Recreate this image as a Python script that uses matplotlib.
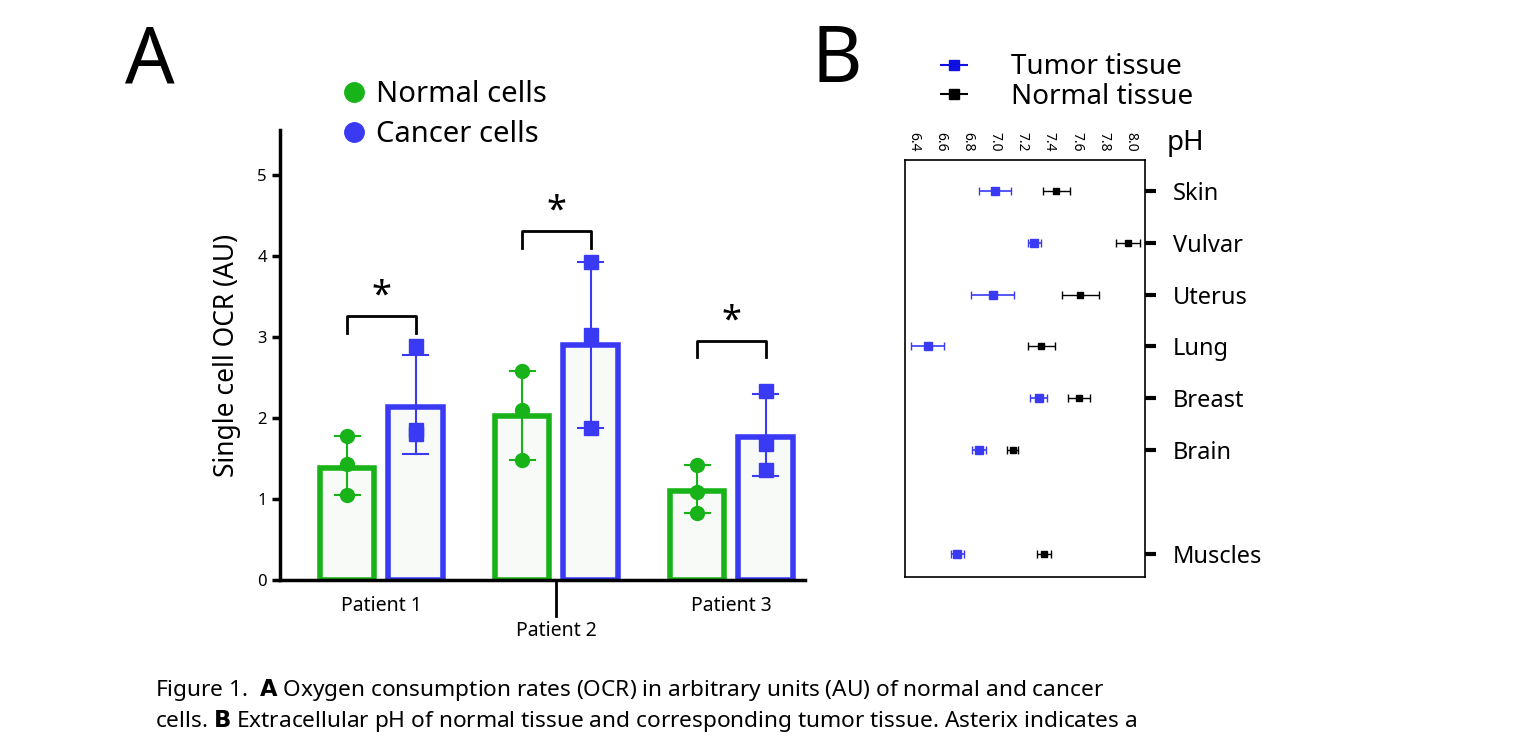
import matplotlib
matplotlib.use("Agg")
import matplotlib.pyplot as plt
import numpy as np

plt.rcParams['font.family'] = ['Noto Sans', 'DejaVu Sans']

patients = ["Patient 1", "Patient 2", "Patient 3"]
normal_mean = [1.38, 2.02, 1.10]
cancer_mean = [2.13, 2.90, 1.76]
normal_pts = [[1.77, 1.43, 1.05], [2.58, 2.10, 1.48], [1.42, 1.08, 0.83]]
cancer_pts = [[2.88, 1.80, 1.85], [3.92, 3.02, 1.88], [2.33, 1.68, 1.36]]
normal_err = [[1.05, 1.77], [1.48, 2.58], [0.83, 1.42]]
cancer_err = [[1.55, 2.78], [1.88, 3.92], [1.28, 2.30]]

tissues = ["Skin", "Vulvar", "Uterus", "Lung", "Breast", "Brain", "Muscles"]
tissue_pos = [0, 1, 2, 3, 4, 5, 7]
tumor_ph = [7.00, 7.29, 6.98, 6.50, 7.32, 6.88, 6.72]
tumor_err = [0.12, 0.05, 0.16, 0.12, 0.06, 0.05, 0.05]
normal_ph = [7.45, 7.98, 7.63, 7.34, 7.62, 7.13, 7.36]
normal_ph_err = [0.10, 0.09, 0.14, 0.10, 0.08, 0.04, 0.05]
ph_ticks = [6.4, 6.6, 6.8, 7.0, 7.2, 7.4, 7.6, 7.8, 8.0]

G = "#18b318"; B = "#3a3af5"
fig = plt.figure(figsize=(15.2, 7.37), dpi=100)

# Panel A
ax = fig.add_axes([280/1520, 1-580/737, 525/1520, 450/737])
x = np.arange(3)
off = 0.195; w = 0.31
for i in range(3):
    for xc, m, pts, er, c in [(x[i]-off, normal_mean[i], normal_pts[i], normal_err[i], G),
                              (x[i]+off, cancer_mean[i], cancer_pts[i], cancer_err[i], B)]:
        ax.bar(xc, m, width=w, facecolor="#f7faf7", edgecolor=c, linewidth=4)
        ax.plot([xc, xc], er, color=c, lw=1.5)
        for e in er:
            ax.plot([xc-0.07, xc+0.07], [e, e], color=c, lw=1.5)
        ax.plot([xc]*3, pts, 'o' if c == G else 's', color=c, ms=10)
sig = [(0, 3.25), (1, 4.3), (2, 2.95)]
for i, yb in sig:
    ax.plot([x[i]-off, x[i]-off, x[i]+off, x[i]+off], [yb-0.2, yb, yb, yb-0.2], color="k", lw=2)
    ax.text(x[i], yb+0.02, "*", ha="center", va="bottom", fontsize=26)
ax.set_xlim(-0.58, 2.42)
ax.set_ylim(0, 5.55)
ax.set_yticks([0, 1, 2, 3, 4, 5])
ax.spines[["top", "right"]].set_visible(False)
ax.spines[["left", "bottom"]].set_linewidth(2.5)
ax.tick_params(width=2.5, length=6, labelsize=12)
ax.tick_params(axis="x", length=0)
ax.set_xticks(x)
ax.set_xticklabels([])
ax.plot([x[1], x[1]], [0, -0.45], color="k", lw=2, clip_on=False)
for i, p in enumerate(patients):
    ax.text(x[i], -0.2 if i != 1 else -0.5, p, ha="center", va="top", fontsize=14)
ax.set_ylabel("Single cell OCR (AU)", fontsize=19, labelpad=12)
ax.plot([], [], 'o', color=G, ms=14, label="Normal cells")
ax.plot([], [], 'o', color=B, ms=14, label="Cancer cells")
ax.legend(loc="upper left", bbox_to_anchor=(0.05, 1.17), frameon=False, fontsize=21,
          handletextpad=0.0, labelspacing=0.4, handlelength=1.5)
fig.text(150/1520, 1-62/737, "A", fontsize=56, ha="center", va="center")

# Panel B
bx = fig.add_axes([905/1520, 1-577/737, 240/1520, 417/737])
bx.errorbar(tumor_ph, tissue_pos, xerr=tumor_err, fmt="s", color=B, ms=6, capsize=3, lw=1.2)
bx.errorbar(normal_ph, tissue_pos, xerr=normal_ph_err, fmt="s", color="k", ms=5, capsize=3, lw=1)
bx.set_xlim(6.333, 8.107)
bx.set_ylim(7.45, -0.6)
bx.xaxis.tick_top()
bx.set_xticks(ph_ticks)
bx.set_xticklabels([f"{t:.1f}" for t in ph_ticks], rotation=-90, fontsize=10)
bx.tick_params(axis="x", length=0, pad=6)
bx.yaxis.tick_right()
bx.set_yticks(tissue_pos)
bx.set_yticklabels(tissues, fontsize=17)
bx.tick_params(axis="y", width=3, length=8, pad=12)
for s in bx.spines.values():
    s.set_linewidth(1.2)
fig.text(1167/1520, 1-143/737, "pH", fontsize=20, va="center")
fig.text(837/1520, 1-62/737, "B", fontsize=56, ha="center", va="center")
h1 = bx.errorbar([], [], xerr=[], fmt="s", color="#1010e0", ms=7, capsize=4)
h2 = bx.errorbar([], [], xerr=[], fmt="s", color="k", ms=7, capsize=4)
fig.legend([h1, h2], ["Tumor tissue", "Normal tissue"], loc="center left",
           bbox_to_anchor=(905/1520, 1-82/737), frameon=False, fontsize=20,
           handlelength=3.5, handletextpad=0.3, labelspacing=0.05, borderaxespad=0,
           borderpad=0)

fig.text(155/1520, 1-690/737, "Figure 1.  $\\bf{A}$ Oxygen consumption rates (OCR) in arbitrary units (AU) of normal and cancer", fontsize=16.3, va="center")
fig.text(155/1520, 1-721/737, "cells. $\\bf{B}$ Extracellular pH of normal tissue and corresponding tumor tissue. Asterix indicates a", fontsize=16.3, va="center")

fig.savefig("out.png", dpi=100)
